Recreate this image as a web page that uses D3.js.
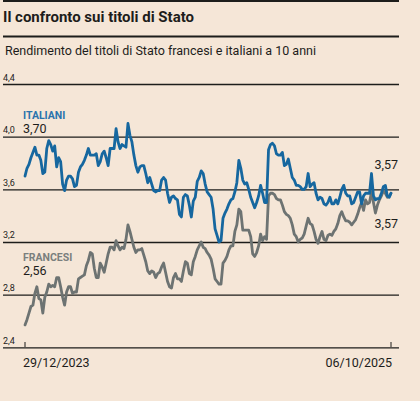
<!DOCTYPE html>
<html>
<head>
<meta charset="utf-8">
<script src="https://cdn.jsdelivr.net/npm/d3@7"></script>
<style>
  html, body { margin: 0; padding: 0; background: #f5e6d7; }
  svg { display: block; }
  .title { font-family: Roboto, sans-serif; font-weight: 700; font-size: 15px; fill: #1d1d1b; }
  .subtitle { font-family: Roboto, sans-serif; font-size: 12.5px; fill: #1d1d1b; }
  .tick text { font-family: Roboto, sans-serif; font-size: 9px; fill: #1d1d1b; }
  .date { font-family: Roboto, sans-serif; font-size: 12.5px; fill: #1d1d1b; }
  .serie { font-family: Roboto, sans-serif; font-weight: 700; font-size: 10.5px; }
  .val { font-family: Roboto, sans-serif; font-size: 12.5px; fill: #1d1d1b; }
</style>
</head>
<body>
<div id="chart"></div>
<script>
// rendimenti, un punto ogni mezza settimana
var inizio = new Date(2023, 11, 29);
var fine = new Date(2025, 9, 6);

var italiani = [
  3.70, 3.76, 3.79, 3.84, 3.88, 3.92, 3.86, 3.86, 3.82, 3.72,
  3.73, 3.91, 3.97, 3.94, 3.89, 3.93, 3.77, 3.84, 3.81, 3.64,
  3.59, 3.67, 3.70, 3.70, 3.68, 3.62, 3.63, 3.73, 3.77, 3.79,
  3.82, 3.86, 3.91, 3.86, 3.86, 3.86, 3.87, 3.78, 3.81, 3.87,
  3.89, 3.84, 3.78, 3.91, 3.91, 3.91, 4.06, 3.96, 3.91, 3.94,
  3.93, 3.92, 4.10, 4.01, 3.96, 3.86, 3.78, 3.73, 3.77, 3.78,
  3.78, 3.72, 3.65, 3.69, 3.64, 3.59, 3.58, 3.59, 3.59, 3.67,
  3.69, 3.67, 3.57, 3.50, 3.54, 3.55, 3.53, 3.52, 3.41, 3.39,
  3.54, 3.56, 3.55, 3.48, 3.39, 3.51, 3.54, 3.66, 3.69, 3.74,
  3.72, 3.64, 3.58, 3.56, 3.54, 3.45, 3.30, 3.25, 3.20, 3.21,
  3.38, 3.42, 3.45, 3.49, 3.52, 3.53, 3.58, 3.65, 3.82, 3.76,
  3.67, 3.64, 3.65, 3.60, 3.54, 3.50, 3.46, 3.50, 3.55, 3.63,
  3.57, 3.50, 3.50, 3.90, 3.94, 3.95, 3.93, 3.87, 3.86, 3.86,
  3.88, 3.78, 3.79, 3.83, 3.76, 3.69, 3.67, 3.63, 3.63, 3.62,
  3.60, 3.60, 3.62, 3.72, 3.62, 3.64, 3.65, 3.57, 3.52, 3.54,
  3.53, 3.49, 3.48, 3.50, 3.54, 3.49, 3.49, 3.52, 3.49, 3.54,
  3.60, 3.63, 3.57, 3.55, 3.55, 3.49, 3.50, 3.54, 3.58, 3.58,
  3.49, 3.55, 3.57, 3.57, 3.57, 3.72, 3.55, 3.52, 3.53, 3.53,
  3.57, 3.62, 3.63, 3.55, 3.54, 3.57];

var francesi = [
  2.57, 2.61, 2.66, 2.71, 2.72, 2.81, 2.86, 2.77, 2.76, 2.66,
  2.78, 2.82, 2.88, 2.86, 2.87, 2.86, 2.93, 2.93, 2.86, 2.78,
  2.72, 2.82, 2.86, 2.86, 2.81, 2.82, 2.82, 2.92, 2.93, 2.94,
  2.95, 3.02, 3.06, 3.12, 3.11, 3.00, 2.93, 2.93, 3.04, 3.01,
  2.97, 3.04, 3.11, 3.16, 3.16, 3.14, 3.21, 3.17, 3.14, 3.16,
  3.15, 3.22, 3.33, 3.28, 3.22, 3.16, 3.12, 3.14, 3.14, 3.15,
  3.10, 3.05, 2.98, 2.96, 2.98, 2.97, 2.93, 2.96, 2.97, 3.01,
  3.04, 2.97, 2.90, 2.86, 2.85, 2.93, 2.96, 2.92, 2.92, 2.90,
  2.98, 3.05, 3.04, 2.96, 2.95, 3.05, 3.09, 3.14, 3.17, 3.20,
  3.16, 3.15, 3.12, 3.10, 3.07, 3.00, 2.92, 2.90, 2.88, 2.88,
  3.04, 3.06, 3.09, 3.14, 3.17, 3.17, 3.28, 3.33, 3.45, 3.43,
  3.29, 3.29, 3.29, 3.29, 3.24, 3.11, 3.09, 3.12, 3.17, 3.26,
  3.21, 3.24, 3.22, 3.55, 3.57, 3.57, 3.56, 3.53, 3.52, 3.52,
  3.48, 3.43, 3.41, 3.40, 3.38, 3.33, 3.26, 3.24, 3.20, 3.22,
  3.23, 3.26, 3.32, 3.38, 3.34, 3.33, 3.28, 3.22, 3.19, 3.24,
  3.28, 3.22, 3.21, 3.25, 3.26, 3.25, 3.28, 3.30, 3.34, 3.40,
  3.43, 3.39, 3.36, 3.36, 3.35, 3.33, 3.35, 3.37, 3.41, 3.46,
  3.50, 3.44, 3.52, 3.49, 3.50, 3.58, 3.50, 3.42, 3.48, 3.52,
  3.55, 3.59, 3.57, 3.54, 3.55, 3.57];

var yTicks = [2.4, 2.8, 3.2, 3.6, 4.0, 4.4];
var etichette = ["29/12/2023", "06/10/2025"];

// mezza settimana = 84 ore, l'ultimo punto e' il 6 ottobre
var date = italiani.map(function(d, i) {
  return i < italiani.length - 1 ? d3.timeHour.offset(inizio, 84 * i) : fine;
});

var width = 420, height = 401;
var svg = d3.select("#chart").append("svg")
  .attr("width", width)
  .attr("height", height);

// testata
svg.append("rect").attr("x", 3).attr("y", 0).attr("width", 396).attr("height", 2).attr("fill", "#1d1d1b");
svg.append("text").attr("class", "title").attr("x", 3).attr("y", 22).text("Il confronto sui titoli di Stato");
svg.append("rect").attr("x", 3).attr("y", 35.5).attr("width", 396).attr("height", 2).attr("fill", "#1d1d1b");
svg.append("text").attr("class", "subtitle").attr("x", 5).attr("y", 55).text("Rendimento del titoli di Stato francesi e italiani a 10 anni");

var x = d3.scaleTime().domain([inizio, fine]).range([25, 391]);
var y = d3.scaleLinear().domain([2.4, 4.4]).range([347.3, 84]);

// griglia
var yAxis = d3.axisLeft(y).tickValues(yTicks).tickSize(-396)
  .tickFormat(function(d) { return d3.format(".1f")(d).replace(".", ","); });
var gy = svg.append("g").attr("transform", "translate(3,0)").call(yAxis);
gy.select(".domain").remove();
gy.selectAll(".tick line").attr("stroke", "#1d1d1b").attr("stroke-width", 1.3);
gy.selectAll(".tick text").attr("text-anchor", "start").attr("x", 0).attr("dy", "-4px");

// tacche asse x
svg.selectAll(".xtick").data([inizio, fine]).enter().append("line")
  .attr("x1", function(d) { return x(d); }).attr("x2", function(d) { return x(d); })
  .attr("y1", 342).attr("y2", 347)
  .attr("stroke", "#1d1d1b").attr("stroke-width", 1);

svg.append("text").attr("class", "date").attr("x", x(inizio) - 2).attr("y", 367).text(etichette[0]);
svg.append("text").attr("class", "date").attr("x", x(fine) + 1).attr("y", 367).attr("text-anchor", "end").text(etichette[1]);

var linea = d3.line()
  .x(function(d, i) { return x(date[i]); })
  .y(function(d) { return y(d); });

svg.append("path").datum(francesi).attr("d", linea)
  .attr("fill", "none").attr("stroke", "#6d7372").attr("stroke-width", 2.8)
  .attr("stroke-linejoin", "round").attr("stroke-linecap", "round");
svg.append("path").datum(italiani).attr("d", linea)
  .attr("fill", "none").attr("stroke", "#16679f").attr("stroke-width", 2.8)
  .attr("stroke-linejoin", "round").attr("stroke-linecap", "round");

// etichette serie
svg.append("text").attr("class", "serie").attr("x", 23).attr("y", 119).attr("fill", "#2a73ad").text("ITALIANI");
svg.append("text").attr("class", "val").attr("x", 23).attr("y", 133).text("3,70");
svg.append("text").attr("class", "serie").attr("x", 23).attr("y", 261).attr("fill", "#7a7f7e").text("FRANCESI");
svg.append("text").attr("class", "val").attr("x", 23).attr("y", 275).text("2,56");
svg.append("text").attr("class", "val").attr("x", 398).attr("y", 169).attr("text-anchor", "end").text("3,57");
svg.append("text").attr("class", "val").attr("x", 398).attr("y", 228).attr("text-anchor", "end").text("3,57");
</script>
</body>
</html>
